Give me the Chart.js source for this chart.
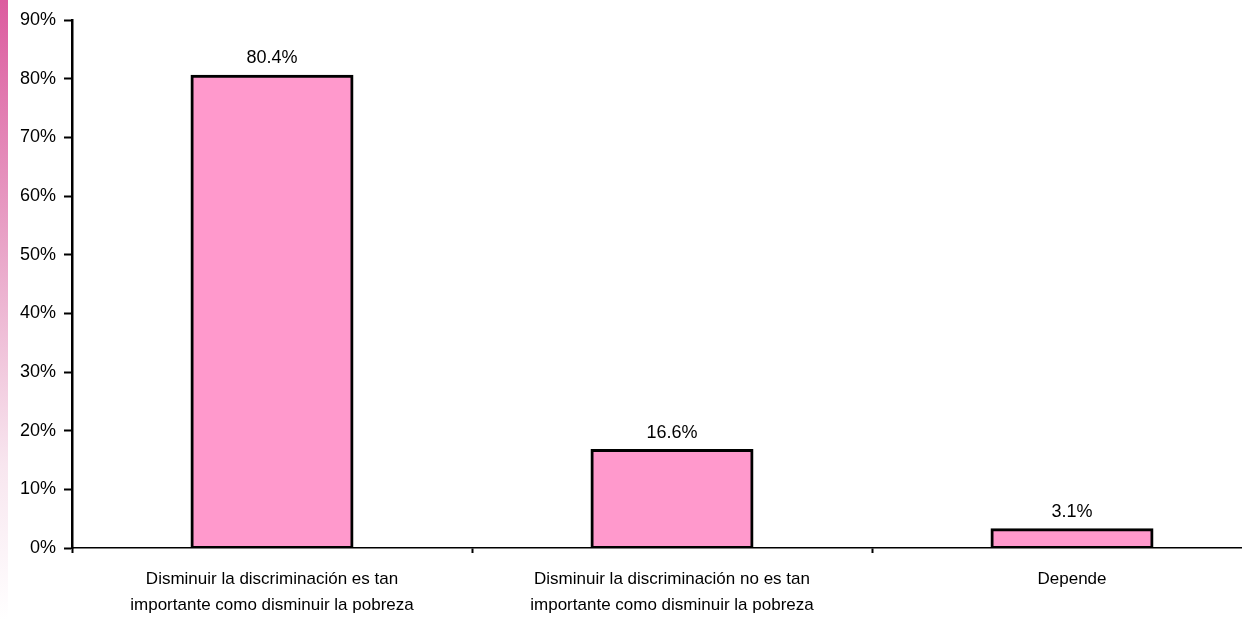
<!DOCTYPE html>
<html>
<head>
<meta charset="utf-8">
<script src="https://cdn.jsdelivr.net/npm/chart.js@4.4.1/dist/chart.umd.min.js"></script>
<style>
    html, body { margin: 0; padding: 0; background: #fff; overflow: hidden; }
    #wrap { position: relative; width: 1300px; height: 620px; }
    #stripe {
        position: absolute; left: 0; top: 0; width: 8px; height: 620px;
        background: linear-gradient(to bottom, #dc5c9f 0%, #e9a5c8 40%, #f8e6ef 75%, #ffffff 100%);
    }
</style>
</head>
<body>
<div id="wrap">
    <div id="stripe"></div>
    <canvas id="myChart" width="1300" height="620"></canvas>
</div>
<script>
const categories = [
    ["Disminuir la discriminación es tan", "importante como disminuir la pobreza"],
    ["Disminuir la discriminación no es tan", "importante como disminuir la pobreza"],
    "Depende"
]
const values = [80.4, 16.6, 3.1]
const yTicks = [0, 10, 20, 30, 40, 50, 60, 70, 80, 90]

const ctx = document.getElementById('myChart')
const family = "'Liberation Sans', Arial, sans-serif"

const valueLabels = {
    id: 'valueLabels',
    afterDatasetsDraw(chart) {
        const c = chart.ctx
        const meta = chart.getDatasetMeta(0)
        c.save()
        c.font = "18px " + family
        c.fillStyle = "#000"
        c.textAlign = "center"
        c.textBaseline = "bottom"
        meta.data.forEach((bar, i) => {
            c.fillText(values[i].toFixed(1) + "%", bar.x, bar.y - 9)
        })
        c.restore()
    }
}

new Chart(ctx, {
    type: 'bar',
    data: {
        labels: categories,
        datasets: [{
            data: values,
            backgroundColor: "#FF99CC",
            borderColor: "#000",
            borderWidth: 3,
            borderSkipped: false,
            inflateAmount: 1.5,
            categoryPercentage: 1,
            barPercentage: 0.4
        }]
    },
    options: {
        responsive: false,
        animation: false,
        layout: { padding: { top: 20, right: 28, left: 0, bottom: 0 } },
        plugins: {
            legend: { display: false },
            tooltip: { enabled: false }
        },
        scales: {
            x: {
                grid: {
                    offset: true,
                    drawOnChartArea: false,
                    drawTicks: true,
                    tickLength: 5,
                    tickColor: "#000",
                    tickWidth: 2
                },
                border: { display: true, color: "#000", width: 1.5 },
                ticks: {
                    color: "#000",
                    font: { family: family, size: 17, lineHeight: 1.5 },
                    padding: 14,
                    maxRotation: 0,
                    autoSkip: false
                },
                afterFit(scale) { scale.height = 72 }
            },
            y: {
                min: 0,
                max: 90,
                afterBuildTicks(scale) { scale.ticks = yTicks.map(v => ({ value: v })) },
                grid: {
                    drawOnChartArea: false,
                    drawTicks: true,
                    tickLength: 8,
                    tickColor: "#000",
                    tickWidth: 2
                },
                border: { display: true, color: "#000", width: 2.5 },
                ticks: {
                    color: "#000",
                    font: { family: family, size: 18 },
                    padding: 8,
                    callback: v => v + "%"
                },
                afterFit(scale) { scale.width = 72 }
            }
        }
    },
    plugins: [valueLabels]
})
</script>
</body>
</html>
